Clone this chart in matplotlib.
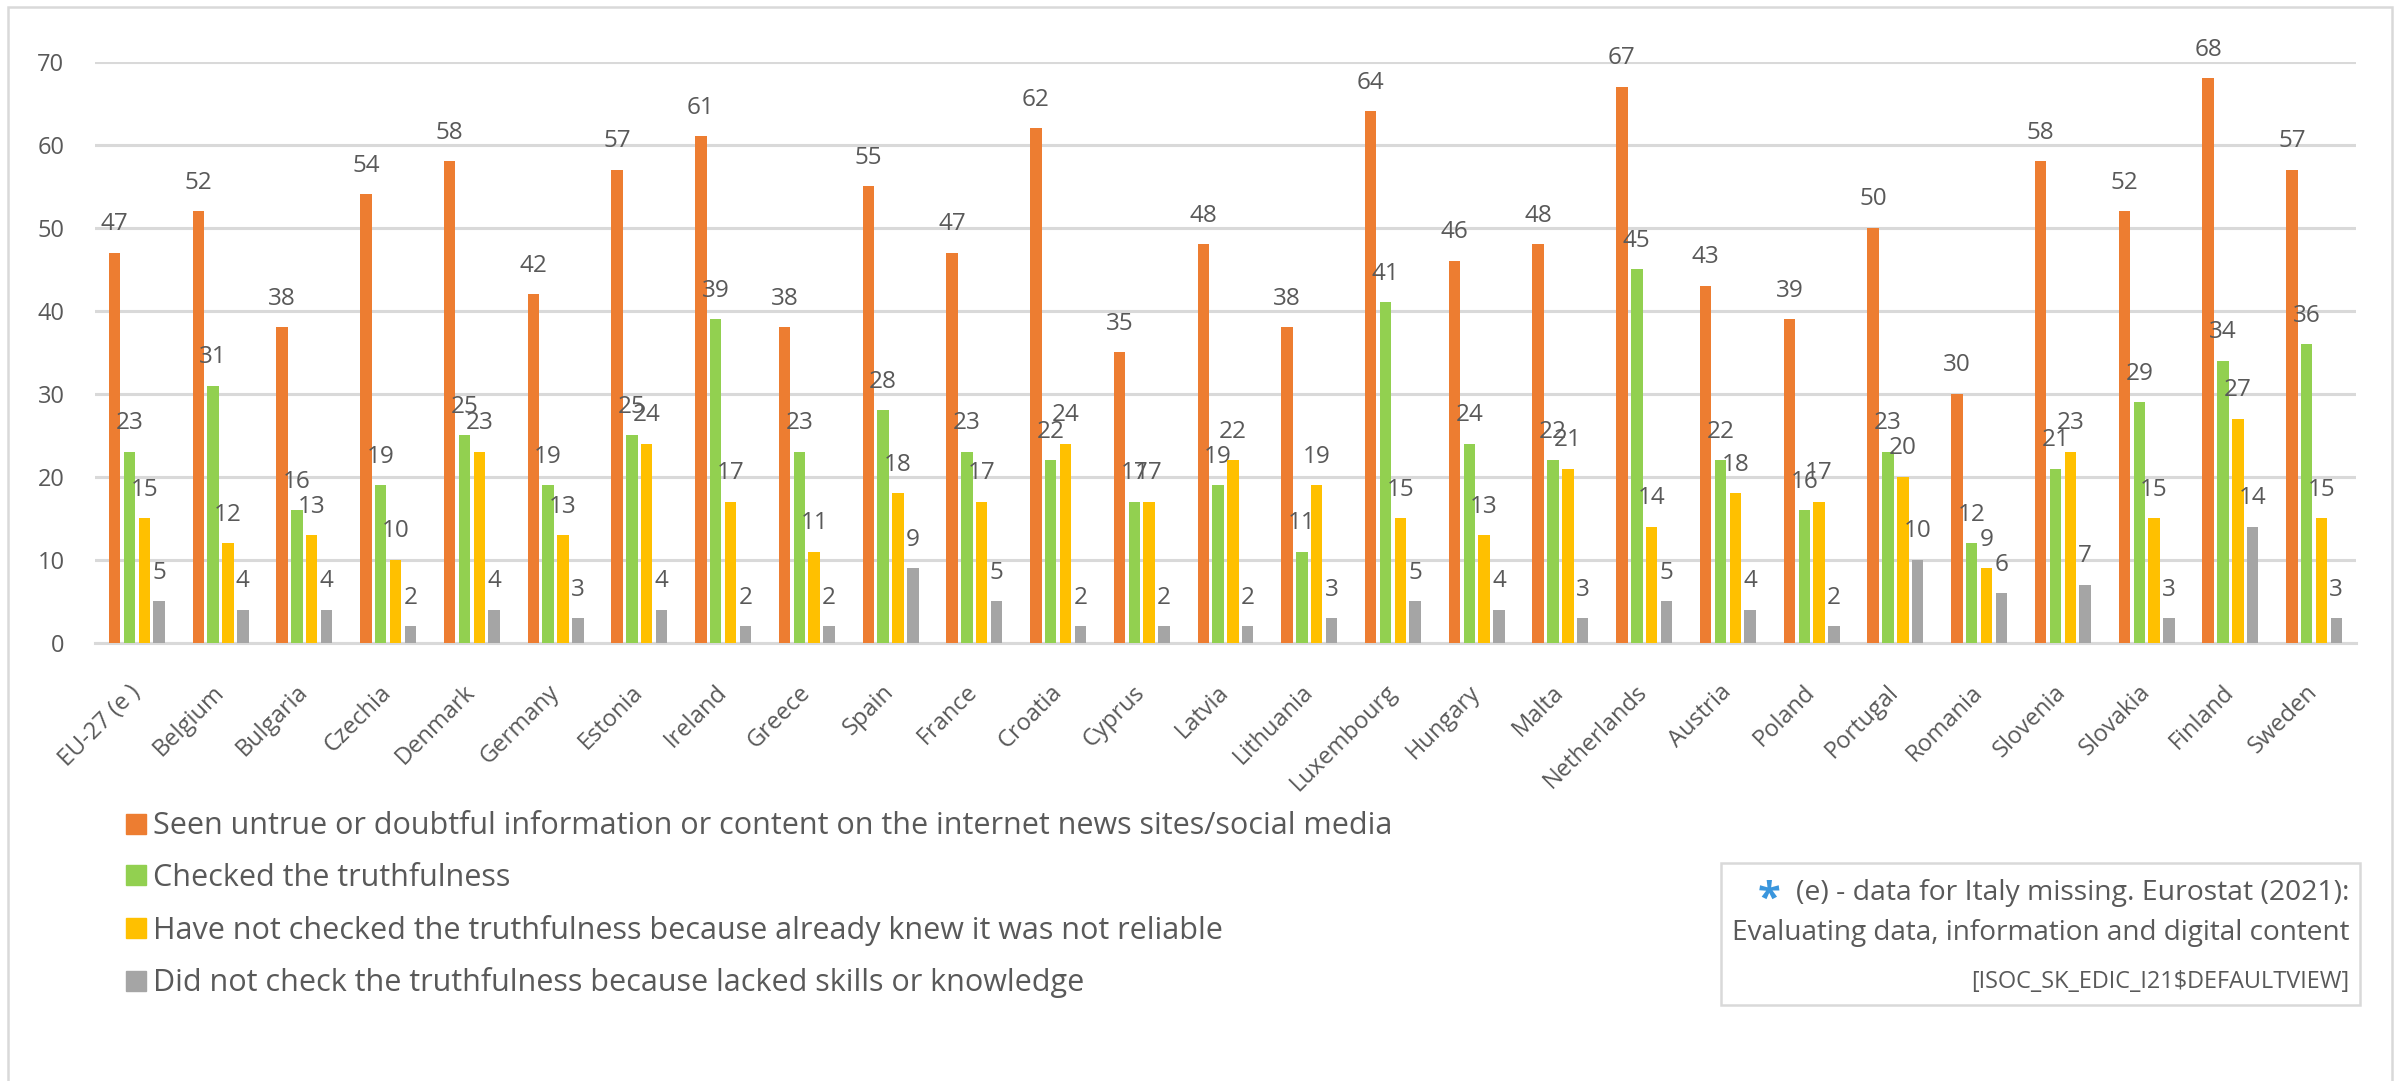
import matplotlib
matplotlib.use("Agg")
import matplotlib.pyplot as plt
import numpy as np
from matplotlib.lines import Line2D
from matplotlib.patches import Rectangle

plt.rcParams["font.family"] = ["Open Sans", "DejaVu Sans"]

countries = ["EU-27 (e )", "Belgium", "Bulgaria", "Czechia", "Denmark", "Germany",
             "Estonia", "Ireland", "Greece", "Spain", "France", "Croatia", "Cyprus",
             "Latvia", "Lithuania", "Luxembourg", "Hungary", "Malta", "Netherlands",
             "Austria", "Poland", "Portugal", "Romania", "Slovenia", "Slovakia",
             "Finland", "Sweden"]

seen_untrue = [47, 52, 38, 54, 58, 42, 57, 61, 38, 55, 47, 62, 35, 48, 38, 64,
               46, 48, 67, 43, 39, 50, 30, 58, 52, 68, 57]
checked = [23, 31, 16, 19, 25, 19, 25, 39, 23, 28, 23, 22, 17, 19, 11, 41,
           24, 22, 45, 22, 16, 23, 12, 21, 29, 34, 36]
knew_unreliable = [15, 12, 13, 10, 23, 13, 24, 17, 11, 18, 17, 24, 17, 22, 19, 15,
                   13, 21, 14, 18, 17, 20, 9, 23, 15, 27, 15]
lacked_skills = [5, 4, 4, 2, 4, 3, 4, 2, 2, 9, 5, 2, 2, 2, 3, 5,
                 4, 3, 5, 4, 2, 10, 6, 7, 3, 14, 3]

series_labels = [
    "Seen untrue or doubtful information or content on the internet news sites/social media",
    "Checked the truthfulness",
    "Have not checked the truthfulness because already knew it was not reliable",
    "Did not check the truthfulness because lacked skills or knowledge",
]
note_lines = [
    "(e) - data for Italy missing. Eurostat (2021):",
    "Evaluating data, information and digital content",
    "[ISOC_SK_EDIC_I21$DEFAULTVIEW]",
]
colors = ["#ED7D31", "#92D050", "#FFC000", "#A5A5A5"]
TEXT = "#595959"
GRID = "#D9D9D9"

W, H = 2402, 1081
fig = plt.figure(figsize=(W / 100, H / 100), dpi=100)
renderer = fig.canvas.get_renderer()


def size_for_width(text, width_px, base=20.0):
    """Font size at which `text` spans width_px pixels."""
    t = fig.text(0, 0, text, fontsize=base)
    w = t.get_window_extent(renderer).width
    t.remove()
    return base * width_px / w


# outer chart frame
fig.add_artist(Rectangle((8 / W, -0.02), (2392 - 8) / W, 1.02 - 7 / H,
                         transform=fig.transFigure, fill=False,
                         edgecolor=GRID, linewidth=1.8))

ax = fig.add_axes([95 / W, 1 - 643 / H, (2356 - 95) / W, (643 - 61.6) / H])

x = np.arange(len(countries))
width = 0.137
step = 0.177
all_series = [seen_untrue, checked, knew_unreliable, lacked_skills]
for k, (vals, col) in enumerate(zip(all_series, colors)):
    pos = x + (k - 1.5) * step
    bars = ax.bar(pos, vals, width=width, color=col, zorder=3)
    for b, v in zip(bars, vals):
        ax.annotate(f"{v}", (b.get_x() + b.get_width() / 2, v),
                    xytext=(0, 20.5), textcoords="offset points",
                    ha="center", va="center", fontsize=17.5, color=TEXT)

ax.set_xlim(-0.5, len(countries) - 0.5)
ax.set_ylim(0, 70)
ax.set_yticks(range(0, 71, 10))
ax.yaxis.grid(True, color=GRID, linewidth=2.2, zorder=0)
ax.set_axisbelow(True)
for s in ["top", "right", "left"]:
    ax.spines[s].set_visible(False)
ax.spines["bottom"].set_color(GRID)
ax.spines["bottom"].set_linewidth(2.2)
ax.tick_params(axis="both", length=0, colors=TEXT, labelsize=17)
ax.tick_params(axis="y", pad=22)
ax.tick_params(axis="x", pad=33)
ax.set_xticks(x)
ax.set_xticklabels(countries, rotation=45, ha="right", va="center",
                   rotation_mode="anchor")

# legend below the plot, sized so the longest entry spans the chart width
leg_fs = size_for_width(series_labels[0], 1237)
leg_px = leg_fs * 100 / 72
handles = [Line2D([], [], marker="s", linestyle="none", markersize=14,
                  markerfacecolor=c, markeredgecolor=c) for c in colors]
fig.legend(handles, series_labels, loc="upper left",
           bbox_to_anchor=(112 / W, 1 - 799 / H), frameon=False,
           fontsize=leg_fs, labelcolor=TEXT, handletextpad=0.15,
           labelspacing=53.8 / leg_px - 1.05, handlelength=0.8, borderaxespad=0)

# source note box
fig.add_artist(Rectangle((1721 / W, 1 - 1005 / H), (2360 - 1721) / W, (1005 - 863) / H,
                         transform=fig.transFigure, fill=False,
                         edgecolor=GRID, linewidth=1.8))
fig.text(1769 / W, 1 - 900 / H, "*", color="#3A96DD", fontsize=30,
         ha="center", va="center", fontweight="bold")
note_widths = [553, 618, 380]
note_y = [893, 933, 982]
for line, wpx, yy in zip(note_lines, note_widths, note_y):
    fig.text(2349 / W, 1 - yy / H, line, color=TEXT,
             fontsize=size_for_width(line, wpx), ha="right", va="center")

fig.savefig("out.png", dpi=100, facecolor="white")
